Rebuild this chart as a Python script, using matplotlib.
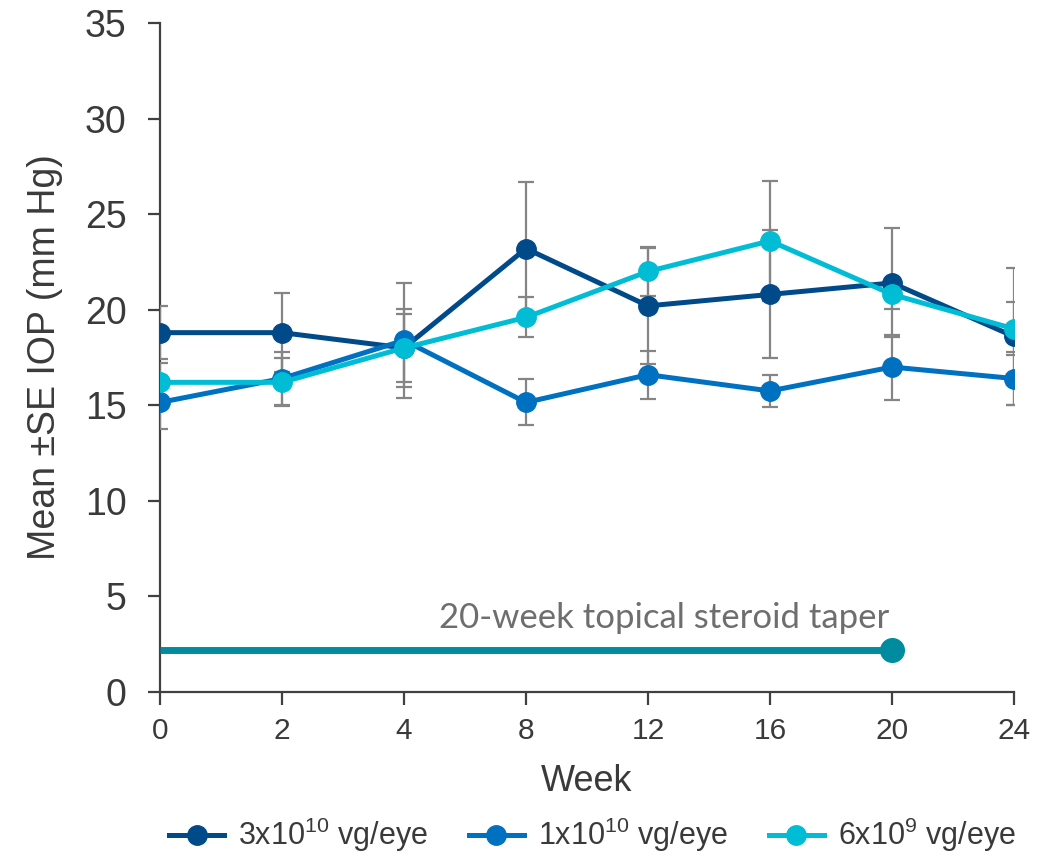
import matplotlib
matplotlib.use("Agg")
import matplotlib.pyplot as plt
from matplotlib.lines import Line2D
import numpy as np

plt.rcParams['font.family'] = ['Liberation Sans', 'DejaVu Sans']
plt.rcParams['mathtext.fontset'] = 'custom'
plt.rcParams['mathtext.rm'] = 'Liberation Sans'
plt.rcParams['mathtext.default'] = 'regular'

weeks = ['0', '2', '4', '8', '12', '16', '20', '24']

dose_labels = [r'3x10$^{10}$ vg/eye', r'1x10$^{10}$ vg/eye', r'6x10$^{9}$ vg/eye']
dose_colors = ['#004A8A', '#0071C1', '#00BDD5']

iop_3e10 = [18.8, 18.8, 18.0, 23.2, 20.2, 20.8, 21.4, 18.6]
se_3e10 = [1.4, 2.05, 2.05, 3.5, 3.05, 3.35, 2.85, 3.6]

iop_1e10 = [15.15, 16.4, 18.4, 15.15, 16.6, 15.75, 17.0, 16.4]
se_1e10 = [1.4, 1.4, 3.0, 1.2, 1.25, 0.86, 1.7, 1.37]

iop_6e9 = [16.2, 16.2, 18.0, 19.6, 22.0, 23.6, 20.8, 19.0]
se_6e9 = [1.0, 1.25, 1.8, 1.05, 1.28, 3.15, 0.78, 1.39]

taper_weeks = ['0', '20']
taper_level = 2.2
taper_text = '20-week topical steroid taper'

fig = plt.figure(figsize=(10.56, 8.57), dpi=100)
ax = fig.add_axes([160 / 1056, 1 - 692 / 857, (1014 - 160) / 1056, (692 - 23) / 857])

x = np.arange(len(weeks))
series = [(iop_3e10, se_3e10), (iop_1e10, se_1e10), (iop_6e9, se_6e9)]

# error bars underneath the lines
for vals, se in series:
    ax.errorbar(x, vals, yerr=se, fmt='none', ecolor='#858585', elinewidth=1.6,
                capsize=6, capthick=1.6, zorder=2)

for (vals, se), color, label in zip(series, dose_colors, dose_labels):
    ax.plot(x, vals, color=color, lw=3.6, marker='o', markersize=14,
            label=label, zorder=3, solid_capstyle='round')

# steroid taper bar
tx = [weeks.index(w) for w in taper_weeks]
ax.plot(tx, [taper_level, taper_level], color='#008C9E', lw=5, zorder=3,
        solid_capstyle='butt')
ax.plot(tx[1], taper_level, marker='o', markersize=17, color='#008C9E', zorder=4)
ax.text(4.13, 3.85, taper_text, ha='center', va='center',
        fontsize=25, color='#6E6E6E', family=['Lato', 'DejaVu Sans'])

ax.set_xlim(0, len(weeks) - 1)
ax.set_ylim(0, 35)
ax.set_xticks(x)
ax.set_xticklabels(weeks)
ax.set_yticks(np.arange(0, 36, 5))

for side in ['top', 'right']:
    ax.spines[side].set_visible(False)
for side in ['left', 'bottom']:
    ax.spines[side].set_color('#404040')
    ax.spines[side].set_linewidth(1.6)
    ax.spines[side].set_zorder(1)

ax.tick_params(axis='y', direction='out', length=9, width=1.6, color='#404040',
               labelsize=27, labelcolor='#3A3A3A', pad=15)
ax.tick_params(axis='x', direction='out', length=9, width=1.6, color='#404040',
               labelsize=21.5, labelcolor='#3A3A3A', pad=9)

ax.set_xlabel('Week', fontsize=26, color='#3A3A3A', labelpad=14)
ax.set_ylabel('Mean \u00b1SE IOP (mm Hg)', fontsize=27, color='#3A3A3A', labelpad=16)

handles = [Line2D([0], [0], color=c, lw=3.6, marker='o', markersize=14)
           for c in dose_colors]
fig.legend(handles, dose_labels, loc='lower center', bbox_to_anchor=(0.561, -0.029),
           ncol=3, frameon=False, fontsize=22, handlelength=1.8,
           columnspacing=1.35, handletextpad=0.45, labelcolor='#3A3A3A')

fig.savefig('out.png', dpi=100)
